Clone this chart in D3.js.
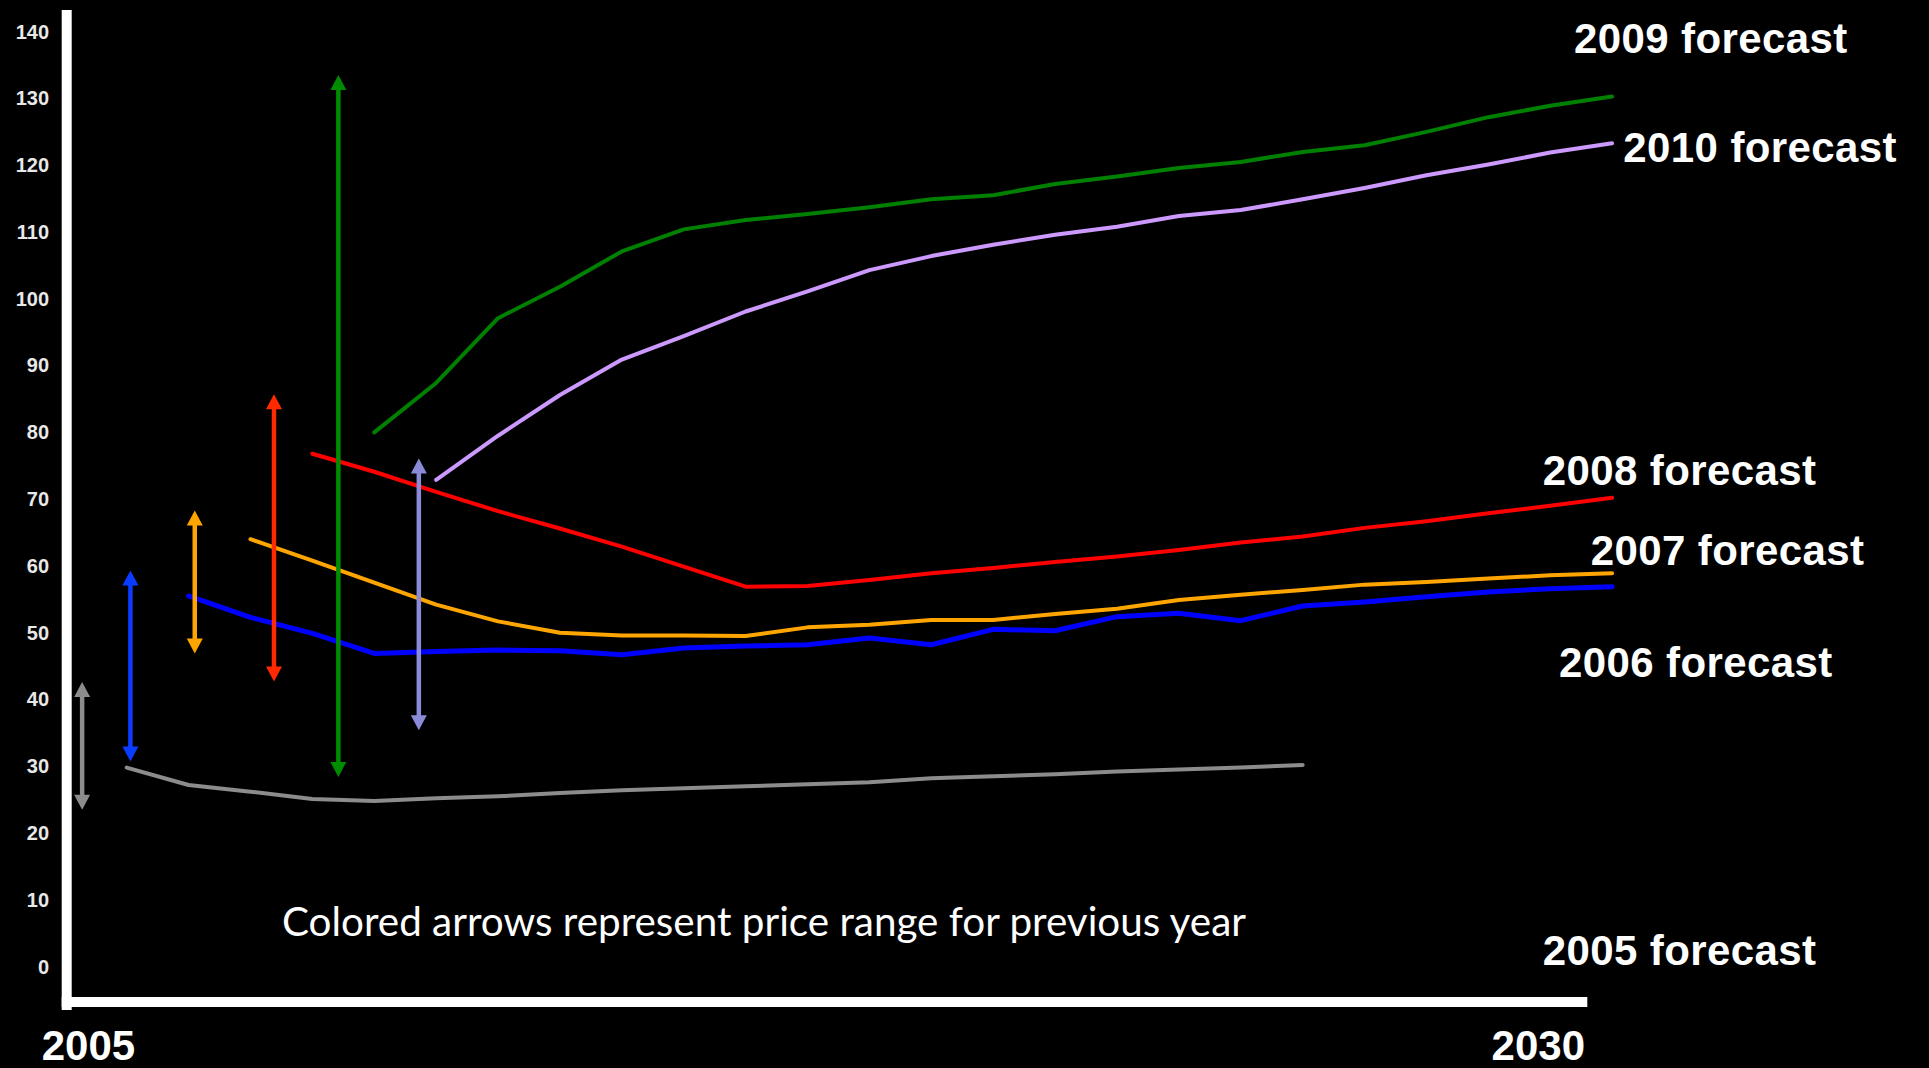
<!DOCTYPE html>
<html>
<head>
<meta charset="utf-8">
<title>Oil price forecasts by vintage</title>
<script src="https://cdn.jsdelivr.net/npm/d3@7"></script>
<style>
  html, body { margin: 0; padding: 0; background: #000; }
  svg { display: block; }
</style>
</head>
<body>
<svg id="chart" width="1929" height="1068"></svg>
<script>
// ---- Data: projected oil price ($/barrel) per forecast vintage ----
const seriesNames = ["2005 forecast", "2006 forecast", "2007 forecast",
                     "2008 forecast", "2009 forecast", "2010 forecast"];
const seriesStartYears = [2006, 2007, 2008, 2009, 2010, 2011];

const forecast2005 = [29.8, 27.2, 26.2, 25.1, 24.8, 25.2, 25.5, 26.0, 26.4, 26.7,
                      27.0, 27.3, 27.6, 28.2, 28.5, 28.8, 29.2, 29.5, 29.8, 30.2];
const forecast2006 = [55.5, 52.3, 49.9, 46.9, 47.2, 47.4, 47.3, 46.7, 47.7, 48.0,
                      48.2, 49.2, 48.2, 50.5, 50.3, 52.4, 52.9, 51.8, 54.0, 54.6,
                      55.4, 56.1, 56.6, 56.9];
const forecast2007 = [64.0, 60.8, 57.5, 54.2, 51.7, 50.0, 49.6, 49.6, 49.5, 50.8,
                      51.2, 51.9, 51.9, 52.8, 53.6, 54.9, 55.7, 56.4, 57.2, 57.6,
                      58.1, 58.6, 58.9];
const forecast2008 = [76.8, 74.1, 71.1, 68.2, 65.6, 62.9, 59.9, 56.9, 57.0, 57.9,
                      58.9, 59.7, 60.6, 61.4, 62.4, 63.5, 64.4, 65.7, 66.7, 67.9,
                      69.0, 70.2];
const forecast2009 = [80.0, 87.4, 97.1, 101.8, 107.1, 110.4, 111.8, 112.7, 113.7, 114.9,
                      115.5, 117.2, 118.3, 119.6, 120.5, 122.0, 123.0, 125.0, 127.2, 128.9,
                      130.3];
const forecast2010 = [72.9, 79.5, 85.6, 90.9, 94.4, 98.1, 101.1, 104.3, 106.4, 108.1,
                      109.6, 110.8, 112.4, 113.3, 114.9, 116.6, 118.5, 120.1, 121.9, 123.3];

// Price range of the year before each forecast (drawn as double arrows)
const rangeYears = [2005.28, 2006.06, 2007.10, 2008.38, 2009.42, 2010.72];
const rangeLow   = [23.5, 30.7, 46.9, 42.7, 28.4, 35.4];
const rangeHigh  = [42.6, 59.3, 68.3, 85.7, 133.5, 76.1];

const yTicks = [0, 10, 20, 30, 40, 50, 60, 70, 80, 90, 100, 110, 120, 130, 140];
const xTickYears = [2005, 2030];
const caption = "Colored arrows represent price range for previous year";

// ---- Styles ----
const lineColors  = ["#8c8c8c", "#0000ff", "#ffa500", "#ff0000", "#008000", "#cc99ff"];
const lineWidths  = [4, 5, 4, 4, 4, 4];
const arrowColors = ["#8c8c8c", "#0a3cff", "#ffa500", "#ff2a00", "#008c00", "#8a8ad8"];

// ---- Layout ----
const W = 1929, H = 1068;
const svg = d3.select("#chart");
svg.append("rect").attr("width", W).attr("height", H).attr("fill", "#000");

const x = d3.scaleLinear().domain([2005, 2030]).range([64.8, 1612.1]);
const y = d3.scaleLinear().domain([0, 140]).range([966.6, 31.7]);

const axisX = 66.7;          // centre of the vertical axis bar
const barW = 10;
const baseY = 1002;          // centre of the horizontal axis bar
const baseEnd = 1587.3;

// Axis bars
svg.append("rect")
  .attr("x", axisX - barW / 2).attr("y", 10)
  .attr("width", barW).attr("height", baseY + 8 - 10)
  .attr("fill", "#fff");
svg.append("rect")
  .attr("x", axisX - barW / 2).attr("y", baseY - barW / 2)
  .attr("width", baseEnd - (axisX - barW / 2)).attr("height", barW)
  .attr("fill", "#fff");

// Y axis tick labels
const yAxis = svg.append("g")
  .attr("transform", `translate(${axisX},0)`)
  .call(d3.axisLeft(y).tickValues(yTicks).tickSize(0).tickPadding(17.7));
yAxis.select(".domain").remove();
yAxis.selectAll("text")
  .attr("fill", "#e8e8e8")
  .style("font-family", "'Liberation Sans', Arial, sans-serif")
  .style("font-weight", "bold")
  .style("font-size", "20px");

// X labels (first and last year)
const xLabelOffsets = [23.6, -73.8];
svg.append("g").selectAll("text")
  .data(xTickYears)
  .join("text")
  .attr("x", (d, i) => x(d) + xLabelOffsets[i])
  .attr("y", 1060)
  .attr("text-anchor", "middle")
  .attr("fill", "#fff")
  .style("font-family", "'Liberation Sans', Arial, sans-serif")
  .style("font-weight", "bold")
  .style("font-size", "42px")
  .text(d => String(d));

// Forecast lines
const allSeries = [forecast2005, forecast2006, forecast2007, forecast2008, forecast2009, forecast2010];
const line = d3.line().x(d => x(d.year)).y(d => y(d.value));
svg.append("g").selectAll("path")
  .data(allSeries.map((vals, i) => vals.map((v, k) => ({ year: seriesStartYears[i] + k, value: v }))))
  .join("path")
  .attr("d", line)
  .attr("fill", "none")
  .attr("stroke", (d, i) => lineColors[i])
  .attr("stroke-width", (d, i) => lineWidths[i])
  .attr("stroke-linejoin", "round")
  .attr("stroke-linecap", "round");

// Previous-year price range arrows
const headLen = 15, headHalf = 8, shaftW = 4.5;
const arrows = svg.append("g").selectAll("g")
  .data(rangeYears.map((yr, i) => ({ yr, lo: rangeLow[i], hi: rangeHigh[i], color: arrowColors[i] })))
  .join("g");
arrows.append("line")
  .attr("x1", d => x(d.yr)).attr("x2", d => x(d.yr))
  .attr("y1", d => y(d.hi) + headLen - 1).attr("y2", d => y(d.lo) - headLen + 1)
  .attr("stroke", d => d.color)
  .attr("stroke-width", shaftW);
arrows.append("path")
  .attr("d", d => {
    const cx = x(d.yr), t = y(d.hi);
    return `M${cx},${t}L${cx + headHalf},${t + headLen}L${cx - headHalf},${t + headLen}Z`;
  })
  .attr("fill", d => d.color);
arrows.append("path")
  .attr("d", d => {
    const cx = x(d.yr), b = y(d.lo);
    return `M${cx},${b}L${cx + headHalf},${b - headLen}L${cx - headHalf},${b - headLen}Z`;
  })
  .attr("fill", d => d.color);

// Forecast labels
const labelPos = [[1542.7, 964.5], [1559, 677], [1590.7, 565.3],
                  [1542.7, 485.2], [1574, 52.7], [1623.3, 161.7]];
svg.append("g").selectAll("text")
  .data(seriesNames)
  .join("text")
  .attr("x", (d, i) => labelPos[i][0])
  .attr("y", (d, i) => labelPos[i][1])
  .attr("fill", "#fff")
  .style("font-family", "'Liberation Sans', Arial, sans-serif")
  .style("font-weight", "bold")
  .style("font-size", "42px")
  .style("letter-spacing", "0.4px")
  .text(d => d);

// Caption
svg.append("text")
  .attr("x", 282)
  .attr("y", 936)
  .attr("fill", "#fff")
  .attr("textLength", 964)
  .attr("lengthAdjust", "spacingAndGlyphs")
  .style("font-family", "'Gill Sans', Lato, 'Open Sans', sans-serif")
  .style("font-size", "41px")
  .text(caption);
</script>
</body>
</html>
